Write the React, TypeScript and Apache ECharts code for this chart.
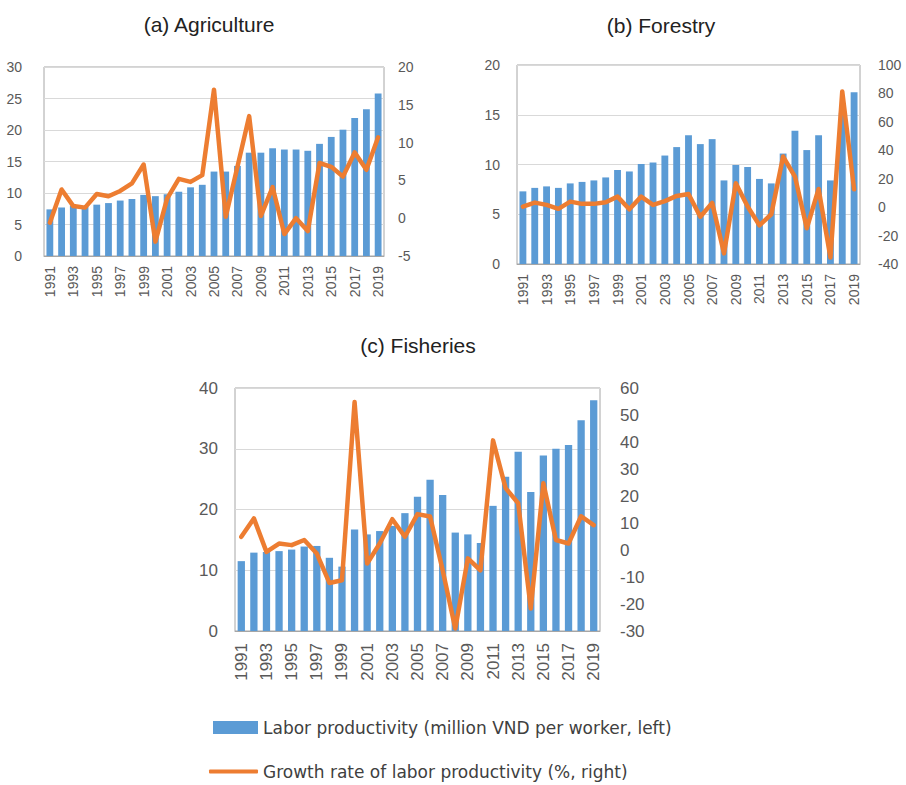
import React, { useEffect, useRef } from "react";
import * as echarts from "echarts";

const years = ["1991","1992","1993","1994","1995","1996","1997","1998","1999","2000","2001","2002","2003","2004","2005","2006","2007","2008","2009","2010","2011","2012","2013","2014","2015","2016","2017","2018","2019"];

const agriProductivity = [7.4,7.7,8.0,7.8,8.15,8.4,8.8,9.05,9.7,9.5,9.8,10.2,10.9,11.3,13.4,13.4,14.3,16.4,16.4,17.1,16.9,16.9,16.7,17.8,18.9,20.05,21.9,23.3,25.8];
const agriGrowth = [-0.6,3.8,1.6,1.4,3.2,2.9,3.6,4.6,7.1,-3.1,2.6,5.2,4.8,5.7,17.0,0.2,6.8,13.5,0.3,4.1,-2.1,0,-1.7,7.3,6.8,5.5,8.7,6.4,10.7];

const forestProductivity = [7.3,7.65,7.8,7.65,8.1,8.25,8.4,8.7,9.45,9.3,10.05,10.2,10.9,11.75,12.95,12.05,12.55,8.4,9.95,9.75,8.55,8.1,11.1,13.4,11.45,12.95,8.4,15.2,17.25];
const forestGrowth = [0.4,3.2,1.6,-1.2,3.9,2.3,2.3,3.5,7.4,-1.5,7.4,1.6,4.2,7.9,9.3,-6.7,3.0,-32.5,16.8,0.4,-12.8,-5.0,35.6,21.5,-14.9,12.8,-35.4,81.4,12.6];

const fishProductivity = [11.5,12.9,13.0,13.15,13.4,13.9,14.0,12.05,10.6,16.7,15.9,16.45,17.3,19.4,22.1,24.9,22.4,16.2,15.9,14.5,20.6,25.4,29.5,22.9,28.9,30.0,30.6,34.7,38.0];
const fishGrowth = [4.9,11.7,-0.7,2.4,1.8,3.7,-1.3,-12.2,-11.2,54.8,-5.0,2.4,11.4,4.9,13.3,12.4,-7.5,-29.1,-3.1,-7.5,40.6,22.9,17.3,-21.7,24.7,3.7,2.4,12.5,9.2];

const panelTitles = ["(a) Agriculture", "(b) Forestry", "(c) Fisheries"];
const barName = "Labor productivity (million VND per worker, left)";
const lineName = "Growth rate of labor productivity (%, right)";

const leftAxes = [
  { min: 0, max: 30, interval: 5 },
  { min: 0, max: 20, interval: 5 },
  { min: 0, max: 40, interval: 10 },
];
const rightAxes = [
  { min: -5, max: 20, interval: 5 },
  { min: -40, max: 100, interval: 20 },
  { min: -30, max: 60, interval: 10 },
];

const BAR = "#5b9bd5";
const LINE = "#ed7d31";
const LABEL = "#595959";
const BORDER = "#a6a6a6";
const GRIDLINE = "#d9d9d9";
const TICK_FONT = '"Liberation Sans Narrow", "Liberation Sans", Arial, sans-serif';
const LEGEND_FONT = '"DejaVu Sans", Verdana, sans-serif';

export default function App() {
  const ref = useRef<HTMLDivElement>(null);

  useEffect(() => {
    if (!ref.current) return;
    const chart = echarts.init(ref.current, undefined, { renderer: "svg" });

    const grids = [
      { left: 44, top: 67, width: 340, height: 189 },
      { left: 517, top: 65, width: 343, height: 199 },
      { left: 235, top: 388, width: 365, height: 243 },
    ];
    const fontSizes = [14, 14, 17];
    const leftMargins = [22, 17, 17];
    const rightMargins = [14, 18, 20];
    const xMargins = [10, 10, 12];
    const prod = [agriProductivity, forestProductivity, fishProductivity];
    const growth = [agriGrowth, forestGrowth, fishGrowth];
    const titleCenters = [
      { x: 209, y: 14 },
      { x: 661, y: 15 },
      { x: 418, y: 335 },
    ];

    const xAxis: any[] = [];
    const yAxis: any[] = [];
    const series: any[] = [];
    grids.forEach((g, i) => {
      xAxis.push({
        type: "category",
        gridIndex: i,
        data: years,
        boundaryGap: true,
        axisLine: { show: true, lineStyle: { color: BORDER } },
        axisTick: { show: false },
        axisLabel: {
          interval: 1,
          rotate: 90,
          color: LABEL,
          fontSize: fontSizes[i],
          fontFamily: TICK_FONT,
          margin: xMargins[i],
        },
      });
      yAxis.push({
        type: "value",
        gridIndex: i,
        position: "left",
        ...leftAxes[i],
        axisLine: { show: false },
        axisTick: { show: false },
        splitLine: { show: true, lineStyle: { color: GRIDLINE } },
        axisLabel: {
          color: LABEL,
          fontSize: fontSizes[i],
          fontFamily: TICK_FONT,
          margin: leftMargins[i],
        },
      });
      yAxis.push({
        type: "value",
        gridIndex: i,
        position: "right",
        ...rightAxes[i],
        axisLine: { show: false },
        axisTick: { show: false },
        splitLine: { show: false },
        axisLabel: {
          color: LABEL,
          fontSize: fontSizes[i],
          fontFamily: TICK_FONT,
          margin: rightMargins[i],
        },
      });
      series.push({
        type: "bar",
        name: barName,
        xAxisIndex: i,
        yAxisIndex: i * 2,
        data: prod[i],
        barCategoryGap: "42%",
        itemStyle: { color: BAR },
        z: 2,
      });
      series.push({
        type: "line",
        name: lineName,
        xAxisIndex: i,
        yAxisIndex: i * 2 + 1,
        data: growth[i],
        symbol: "none",
        lineStyle: { color: LINE, width: 4.5, join: "round", cap: "round" },
        itemStyle: { color: LINE },
        z: 3,
      });
    });

    const option: any = {
      animation: false,
      backgroundColor: "#ffffff",
      title: panelTitles.map((t, i) => ({
        text: t,
        left: titleCenters[i].x,
        top: titleCenters[i].y,
        textAlign: "center",
        padding: 0,
        textStyle: {
          fontFamily: TICK_FONT,
          fontWeight: "normal",
          fontSize: 21,
          color: "#222222",
        },
      })),
      grid: grids.map((g) => ({
        ...g,
        show: true,
        borderColor: BORDER,
        borderWidth: 1,
        backgroundColor: "transparent",
        containLabel: false,
      })),
      xAxis,
      yAxis,
      legend: [
        {
          data: [{ name: barName, icon: "rect" }],
          left: 213,
          top: 719,
          padding: 0,
          itemWidth: 45,
          itemHeight: 13,
          selectedMode: false,
          textStyle: { color: "#404040", fontSize: 17, fontFamily: LEGEND_FONT },
        },
        {
          data: [{ name: lineName, icon: "roundRect" }],
          left: 209,
          top: 763,
          padding: 0,
          itemWidth: 49,
          itemHeight: 4,
          selectedMode: false,
          textStyle: { color: "#404040", fontSize: 17, fontFamily: LEGEND_FONT },
        },
      ],
      series,
    };

    chart.setOption(option);
    return () => chart.dispose();
  }, []);

  return (
    <div
      ref={ref}
      style={{ position: "fixed", left: 0, top: 0, width: 906, height: 785, background: "#fff" }}
    />
  );
}
